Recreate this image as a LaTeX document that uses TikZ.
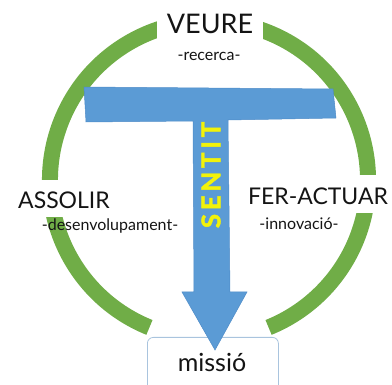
\documentclass[tikz,border=0pt]{standalone}
\usepackage{fontspec}
\setmainfont{Lato}
\newfontfamily\sentfont[LetterSpace=14,FakeBold=1.6,UprightFont={* Bold}]{Lato}
\usetikzlibrary{calc}
\definecolor{ringgreen}{HTML}{70AD47}
\definecolor{tblue}{HTML}{5B9BD5}
\definecolor{tedge}{HTML}{4F8CC8}
\definecolor{sentyel}{HTML}{F2F20A}
\definecolor{boxedge}{HTML}{A9C4DE}
\definecolor{txt}{HTML}{141414}
\begin{document}
\begin{tikzpicture}[x=1pt,y=-1pt,
  whitebox/.style={fill=white,draw=none},
  biglabel/.style={text=txt,inner sep=0pt,anchor=center},
  smalllabel/.style={text=txt,inner sep=0pt,anchor=center,font=\fontsize{16}{18}\selectfont}]
\useasboundingbox (0,0) rectangle (392,385);
\coordinate (c) at (209,180);
% green ring
\draw[ringgreen,line width=16pt] ($(c)+(112:159)$) arc[start angle=112,end angle=428,radius=159];
% white label backgrounds
\fill[white] (157,3) rectangle (263,43);
\fill[white] (10,180) rectangle (118,217);
\fill[white] (237,175) rectangle (392,213);
% missio box
\node[draw=boxedge,line width=0.8pt,fill=white,rounded corners=6pt,minimum width=131pt,minimum height=60pt,anchor=north west] (mbox) at (147,337) {};
% T arrow
\fill[tblue,draw=tedge,line width=0.5pt] (84,87) -- (333,89) -- (336,118) -- (228,120) -- (230,292) -- (247,292) -- (215,350) -- (182,292) -- (194,292) -- (193,121) -- (86,122) -- cycle;
% texts
\node[biglabel,font=\fontsize{27}{30}\selectfont] (veure) at (210,24) {VEURE};
\node[smalllabel] (recerca) at (209,56) {-recerca-};
\node[biglabel,font=\fontsize{23}{26}\selectfont] (assolir) at (64,200) {ASSOLIR};
\node[smalllabel] (desenv) at (110,226) {-desenvolupament-};
\node[biglabel,font=\fontsize{23}{26}\selectfont] (feract) at (318,196) {FER-ACTUAR};
\node[smalllabel] (innov) at (299,224) {-innovació-};
\node[biglabel,font=\fontsize{25}{28}\selectfont] (missio) at (212,362) {missió};
\node[text=sentyel,inner sep=0pt,rotate=90,font={\sentfont\fontsize{26}{28}\selectfont}] (sentit) at (211,175) {SENTIT};
\end{tikzpicture}
\end{document}
